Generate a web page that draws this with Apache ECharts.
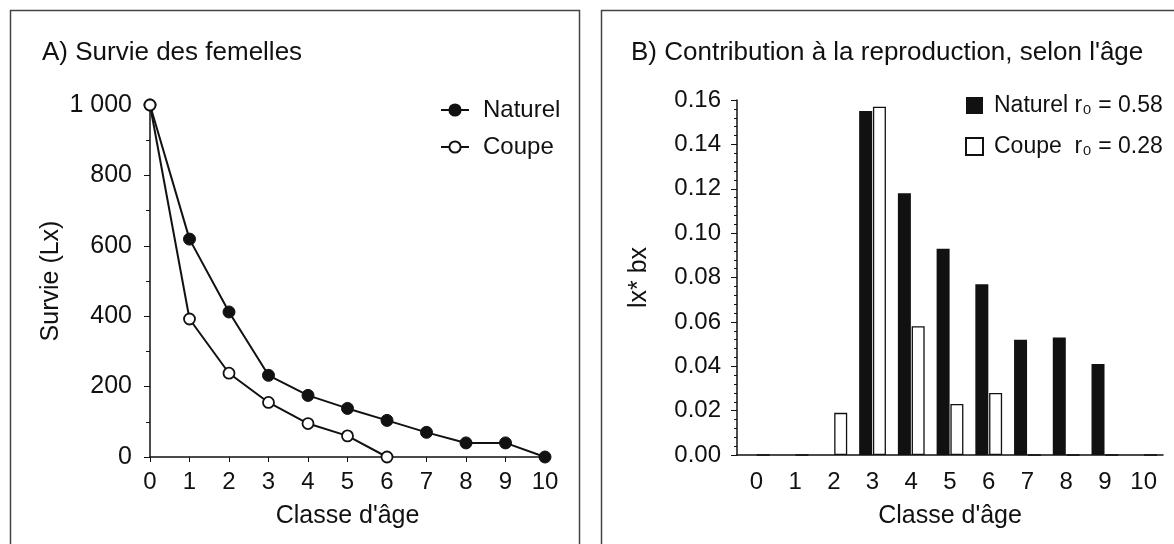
<!DOCTYPE html>
<html>
<head>
<meta charset="utf-8">
<script src="https://cdn.jsdelivr.net/npm/echarts@6/dist/echarts.min.js"></script>
<style>
  html, body { margin: 0; padding: 0; background: #fff; }
  #main { width: 1174px; height: 544px; }
</style>
</head>
<body>
<div id="main"></div>
<script>
// classes d'age
var ageClasses = ['0', '1', '2', '3', '4', '5', '6', '7', '8', '9', '10'];
// A) survie (Lx)
var survieNaturel = [1000, 619, 412, 232, 175, 138, 104, 70, 40, 40, 0];
var survieCoupe = [1000, 392, 238, 155, 95, 60, 0];
// B) lx* bx
var reproNaturel = [0, 0, 0, 0.155, 0.118, 0.093, 0.077, 0.052, 0.053, 0.041, 0];
var reproCoupe = [0, 0, 0.019, 0.157, 0.058, 0.023, 0.028, 0, 0, 0, 0];

var fontFam = '"Liberation Sans", Arial, sans-serif';
var ink = '#111';

function pairs(arr) {
    return arr.map(function (v, i) { return [i, v]; });
}

var myChart = echarts.init(document.getElementById('main'));
var option = {
    backgroundColor: '#fff',
    animation: false,
    textStyle: { fontFamily: fontFam, color: ink },
    graphic: [
        { type: 'rect', shape: { x: 10.5, y: 10.5, width: 569, height: 580 },
          style: { fill: 'none', stroke: '#444', lineWidth: 1.5 } },
        { type: 'rect', shape: { x: 601.5, y: 10.5, width: 590, height: 580 },
          style: { fill: 'none', stroke: '#444', lineWidth: 1.5 } }
    ],
    title: [
        { text: 'A) Survie des femelles', left: 37, top: 35,
          textStyle: { fontFamily: fontFam, fontWeight: 'normal', fontSize: 26, color: ink } },
        { text: "B) Contribution à la reproduction, selon l'âge", left: 626, top: 35,
          textStyle: { fontFamily: fontFam, fontWeight: 'normal', fontSize: 26, color: ink } }
    ],
    legend: [
        {
            data: ['Naturel', 'Coupe'],
            orient: 'vertical', left: 440, top: 98, padding: 0,
            itemWidth: 28, itemHeight: 14, itemGap: 13,
            textStyle: { fontFamily: fontFam, fontSize: 24, color: ink, padding: [0, 0, 0, 9] }
        },
        {
            data: ['Naturel r₀ = 0.58', 'Coupe  r₀ = 0.28'],
            orient: 'vertical', left: 965, top: 94, padding: 0,
            icon: 'rect', itemWidth: 17, itemHeight: 17, itemGap: 18,
            textStyle: { fontFamily: fontFam, fontSize: 23, color: ink, padding: [0, 0, 0, 6] }
        }
    ],
    grid: [
        { left: 150, right: 629, top: 105, bottom: 87 },
        { left: 737, right: 11, top: 100, bottom: 89 }
    ],
    xAxis: [
        {
            type: 'value', gridIndex: 0, min: 0, max: 10, interval: 1,
            name: "Classe d'âge", nameLocation: 'middle', nameGap: 47,
            nameTextStyle: { fontFamily: fontFam, fontSize: 25, color: ink },
            axisLine: { lineStyle: { color: ink, width: 1.5 } },
            axisTick: { length: 5, lineStyle: { color: ink } },
            axisLabel: { fontFamily: fontFam, fontSize: 24, color: ink, margin: 13 },
            splitLine: { show: false }
        },
        {
            type: 'category', gridIndex: 1, data: ageClasses,
            name: "Classe d'âge", nameLocation: 'middle', nameGap: 49,
            nameTextStyle: { fontFamily: fontFam, fontSize: 25, color: ink },
            axisLine: { lineStyle: { color: ink, width: 1.5 } },
            axisTick: { length: 8, lineStyle: { color: ink, width: 1.5 } },
            axisLabel: { fontFamily: fontFam, fontSize: 24, color: ink, margin: 15 }
        }
    ],
    yAxis: [
        {
            type: 'value', gridIndex: 0, min: 0, max: 1000, interval: 200,
            name: 'Survie (Lx)', nameLocation: 'middle', nameGap: 86,
            nameTextStyle: { fontFamily: fontFam, fontSize: 25, color: ink },
            axisLine: { show: true, lineStyle: { color: ink, width: 1.5 } },
            axisTick: { show: true, length: 6, lineStyle: { color: ink } },
            minorTick: { show: true, splitNumber: 2, length: 4, lineStyle: { color: ink } },
            axisLabel: {
                fontFamily: fontFam, fontSize: 25, color: ink, margin: 18,
                formatter: function (v) { return v === 1000 ? '1 000' : String(v); }
            },
            splitLine: { show: false }
        },
        {
            type: 'value', gridIndex: 1, min: 0, max: 0.16, interval: 0.02,
            name: 'lx* bx', nameLocation: 'middle', nameGap: 85,
            nameTextStyle: { fontFamily: fontFam, fontSize: 25, color: ink },
            axisLine: { show: true, lineStyle: { color: ink, width: 1.5 } },
            axisTick: { show: true, length: 6, lineStyle: { color: ink } },
            minorTick: { show: true, splitNumber: 5, length: 3, lineStyle: { color: ink } },
            axisLabel: {
                fontFamily: fontFam, fontSize: 24, color: ink, margin: 16,
                formatter: function (v) { return v.toFixed(2); }
            },
            splitLine: { show: false }
        }
    ],
    series: [
        {
            name: 'Naturel', type: 'line', xAxisIndex: 0, yAxisIndex: 0,
            data: pairs(survieNaturel),
            symbol: 'circle', symbolSize: 12,
            lineStyle: { color: ink, width: 2 },
            itemStyle: { color: ink, borderColor: ink, borderWidth: 1 },
            z: 2
        },
        {
            name: 'Coupe', type: 'line', xAxisIndex: 0, yAxisIndex: 0,
            data: pairs(survieCoupe),
            symbol: 'circle', symbolSize: 11,
            lineStyle: { color: ink, width: 2 },
            itemStyle: { color: '#fff', borderColor: ink, borderWidth: 1.8 },
            z: 3
        },
        {
            name: 'Naturel r₀ = 0.58', type: 'bar', xAxisIndex: 1, yAxisIndex: 1,
            data: reproNaturel,
            barWidth: 13, barGap: '6%',
            itemStyle: { color: ink, borderColor: ink, borderWidth: 0 }
        },
        {
            name: 'Coupe  r₀ = 0.28', type: 'bar', xAxisIndex: 1, yAxisIndex: 1,
            data: reproCoupe,
            barWidth: 13,
            itemStyle: { color: '#fff', borderColor: ink, borderWidth: 1.3 }
        }
    ]
};
myChart.setOption(option);
</script>
</body>
</html>
